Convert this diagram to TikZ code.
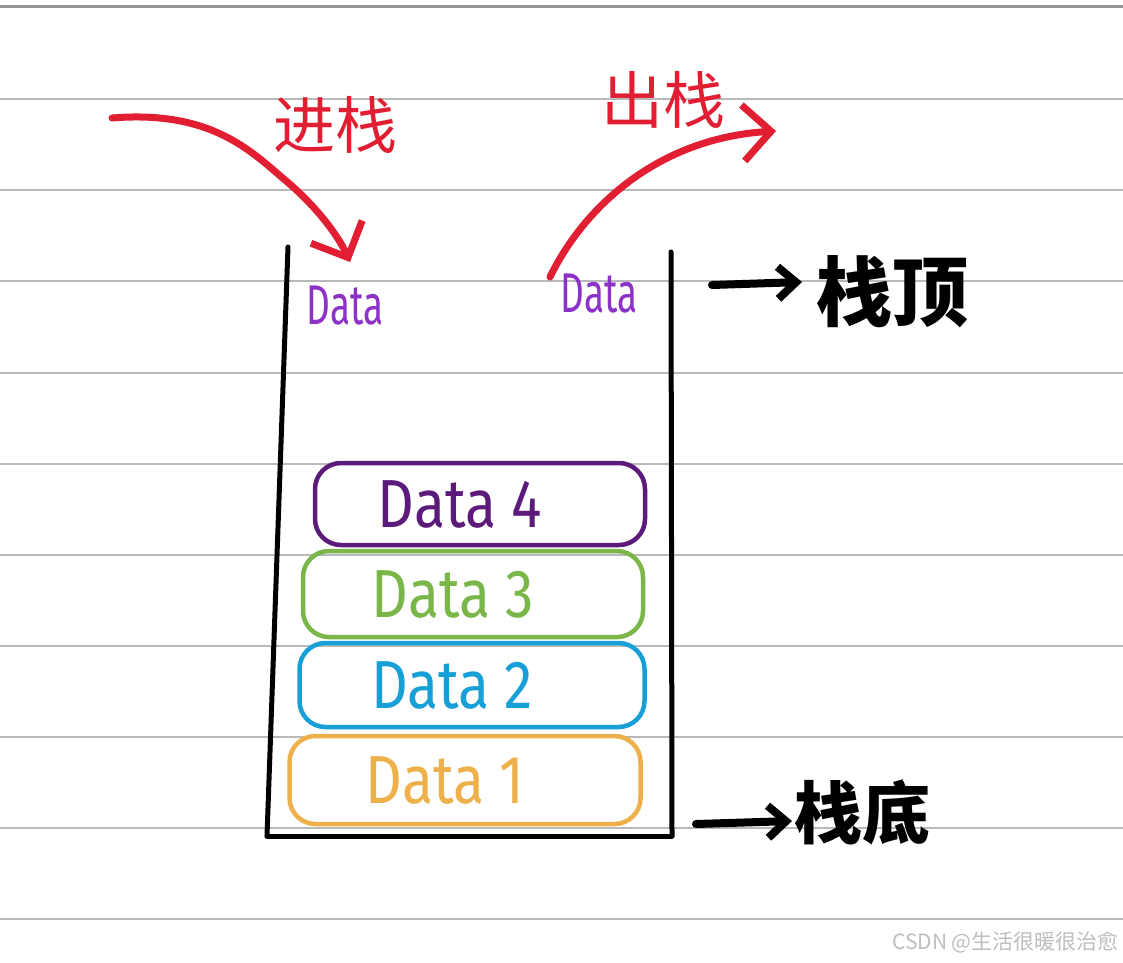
\documentclass[tikz,border=0pt]{standalone}
\usepackage{fontspec}
\setmainfont{Fira Sans}
\newfontfamily\cjk{Noto Sans CJK SC}
\usetikzlibrary{arrows.meta,shapes.misc}
\definecolor{rulegray}{RGB}{185,185,185}
\definecolor{topgray}{RGB}{150,150,150}
\definecolor{hred}{RGB}{226,30,50}
\definecolor{dpurple}{RGB}{92,26,122}
\definecolor{lpurple}{RGB}{140,50,200}
\definecolor{dgreen}{RGB}{122,182,72}
\definecolor{dblue}{RGB}{22,160,215}
\definecolor{dorange}{RGB}{238,176,74}
\definecolor{wmgray}{RGB}{190,190,190}
\newcommand{\boxtext}[1]{\scalebox{0.84}[1]{#1}\hspace*{40pt}}
\tikzset{
  rule/.style={rulegray, line width=2.2pt},
  wall/.style={black, line width=5pt, line cap=round},
  databox/.style={rectangle, rounded corners=26pt, line width=4.5pt, inner sep=0pt,
    font=\fontsize{68}{68}\selectfont},
  smalldata/.style={lpurple, font=\fontsize{56}{56}\selectfont, inner sep=0pt},
  redarrow/.style={hred, line width=7pt, line cap=round,
    -{Straight Barb[length=28pt,width=56pt,line width=7pt]}},
  blackarrow/.style={black, line width=8pt, line cap=round,
    -{Straight Barb[length=18pt,width=32pt,line width=8pt]}},
  redlabel/.style={hred, font=\cjk\fontsize{62}{62}\selectfont, inner sep=0pt},
  blacklabel/.style={black, font=\cjk\bfseries\fontsize{76}{76}\selectfont, inner sep=0pt},
}
\begin{document}
\begin{tikzpicture}[x=1pt,y=-1pt]
\useasboundingbox (0,0) rectangle (1123,962);
\fill[white] (0,0) rectangle (1123,962);
% ruled paper
\draw[topgray, line width=3pt] (0,6) -- (1123,6);
\foreach \yy in {99,190,281,373,464,555,646,737,828,919}
  \draw[rule] (0,\yy) -- (1123,\yy);
% stack container
\coordinate (lt) at (288,247);
\coordinate (lb) at (267,836);
\coordinate (rt) at (671,252);
\coordinate (rb) at (672,836);
\draw[wall] (lt) -- (lb);
\draw[wall] (rt) -- (rb);
\draw[wall] (lb) -- (rb);
% data boxes
\node[databox, draw=dpurple, text=dpurple, minimum width=330pt, minimum height=82pt] (d4) at (480,504) {\boxtext{Data 4}};
\node[databox, draw=dgreen, text=dgreen, minimum width=340pt, minimum height=86pt] (d3) at (473,594) {\boxtext{Data 3}};
\node[databox, draw=dblue, text=dblue, minimum width=345pt, minimum height=84pt] (d2) at (472,685) {\boxtext{Data 2}};
\node[databox, draw=dorange, text=dorange, minimum width=351pt, minimum height=88pt] (d1) at (465,780) {\boxtext{Data 1}};
% small data labels
\node[smalldata] (din) at (345,306) {\scalebox{0.66}[1]{Data}};
\node[smalldata] (dout) at (599,294) {\scalebox{0.66}[1]{Data}};
% push / pop arrows
\coordinate (inStart) at (112,118);
\coordinate (inEnd) at (350,262);
\draw[redarrow] (inStart) .. controls (210,110) and (250,150) .. (285,180)
  .. controls (315,205) and (338,235) .. (inEnd);
\coordinate (outStart) at (550,277);
\coordinate (outEnd) at (776,131);
\draw[redarrow] (outStart) .. controls (585,205) and (660,138) .. (outEnd);
\node[redlabel] (push) at (335,125) {进栈};
\node[redlabel] (pop) at (663,100) {出栈};
% top / bottom markers
\coordinate (topStart) at (712,285);
\coordinate (botStart) at (696,824);
\node[blacklabel] (top) at (892,292) {栈顶};
\node[blacklabel, font=\cjk\bfseries\fontsize{68}{68}\selectfont] (bottom) at (862,812) {栈底};
\draw[blackarrow] (topStart) -- (802,282);
\draw[blackarrow] (botStart) -- (792,821);
% watermark
\node[wmgray, anchor=east, font=\cjk\fontsize{21}{21}\selectfont, inner sep=0pt] (wm) at (1119,942) {CSDN @生活很暖很治愈};
\end{tikzpicture}
\end{document}
